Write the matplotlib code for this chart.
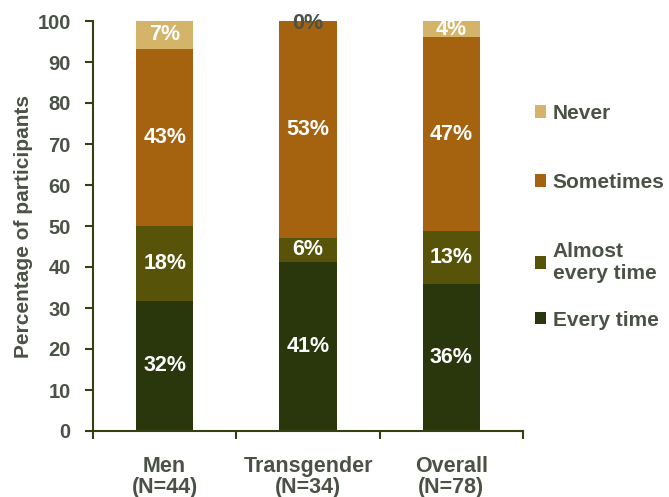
import matplotlib
matplotlib.use("Agg")
import matplotlib.pyplot as plt
import numpy as np
from matplotlib.patches import Patch

plt.rcParams['font.family'] = ['Liberation Sans', 'DejaVu Sans']
plt.rcParams['font.weight'] = 'bold'

categories = ["Men\n(N=44)", "Transgender\n(N=34)", "Overall\n(N=78)"]
series_names = ["Every time", "Almost\nevery time", "Sometimes", "Never"]
every_time = [31.8, 41.2, 35.9]
almost = [18.2, 5.9, 12.8]
sometimes = [43.2, 52.9, 47.4]
never = [6.8, 0.0, 3.8]
series = [every_time, almost, sometimes, never]
colors = ["#2A360B", "#57540A", "#A5620F", "#D4B469"]
labels_every = ["32%", "41%", "36%"]
labels_almost = ["18%", "6%", "13%"]
labels_some = ["43%", "53%", "47%"]
labels_never = ["7%", "0%", "4%"]
series_labels = [labels_every, labels_almost, labels_some, labels_never]
yticks = [0, 10, 20, 30, 40, 50, 60, 70, 80, 90, 100]

text_col = "#4a5245"
axis_col = "#34400f"

fig = plt.figure(figsize=(6.69, 4.97), dpi=100)
ax = fig.add_axes([93/669, 1 - 431/497, (523-93)/669, (431-21)/497])

x = np.arange(len(categories))
bottom = np.zeros(len(categories))
for vals, col, labs in zip(series, colors, series_labels):
    vals = np.array(vals)
    ax.bar(x, vals, width=0.4, bottom=bottom, color=col, edgecolor='none')
    for xi, b, v, lab in zip(x, bottom, vals, labs):
        if v > 0:
            ax.text(xi, b + v / 2, lab, ha='center', va='center', color='white',
                    fontsize=15.5, fontweight='bold')
        else:
            ax.text(xi, b + v - 0.5, lab, ha='center', va='center', color=text_col,
                    fontsize=15.5, fontweight='bold')
    bottom = bottom + vals

ax.set_xlim(-0.5, 2.5)
ax.set_ylim(0, 100)
ax.set_yticks(yticks)
ax.set_xticks(x)
ax.set_xticklabels(categories, linespacing=1.0)
ax.set_xticks([-0.5, 0.5, 1.5, 2.5], minor=True)
ax.tick_params(axis='x', which='major', length=0, pad=18, labelsize=15.5, labelcolor=text_col)
ax.tick_params(axis='x', which='minor', length=6, width=1.5, color=axis_col, direction='out')
ax.tick_params(axis='y', length=6, width=1.5, color=axis_col, labelsize=14.5, labelcolor=text_col, pad=10)
for s in ['top', 'right']:
    ax.spines[s].set_visible(False)
for s in ['left', 'bottom']:
    ax.spines[s].set_color(axis_col)
    ax.spines[s].set_linewidth(1.5)
ax.set_ylabel("Percentage of participants", fontsize=15, color=text_col, fontweight='bold', labelpad=3)

handles = [Patch(facecolor=c, edgecolor='none') for c in colors][::-1]
names = series_names[::-1]
leg_kw = dict(frameon=False, fontsize=15, handlelength=0.55, handleheight=0.55,
              handletextpad=0.3, borderaxespad=0, borderpad=0)
leg1 = fig.legend(handles[:3], names[:3], loc='upper left',
                  bbox_to_anchor=(535/669, 1 - 104/497), labelspacing=2.4, **leg_kw)
leg2 = fig.legend(handles[3:], names[3:], loc='center left',
                  bbox_to_anchor=(535/669, 1 - 320/497), **leg_kw)
for leg in (leg1, leg2):
    for t in leg.get_texts():
        t.set_color(text_col)
        t.set_fontweight('bold')
        t.set_linespacing(1.2)

fig.savefig("out.png", dpi=100)
